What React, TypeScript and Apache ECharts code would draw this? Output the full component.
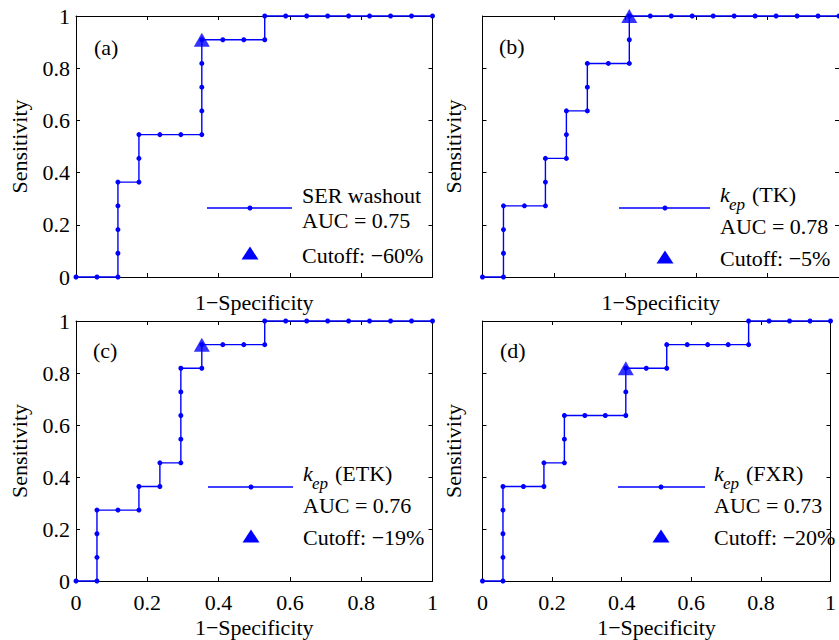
import React, { useEffect, useRef } from "react";
import * as echarts from "echarts";

// ---------- data ----------
const FPR_A = [0, 0.0588, 0.1176, 0.1176, 0.1176, 0.1176, 0.1176, 0.1765, 0.1765, 0.1765, 0.2353, 0.2941, 0.3529, 0.3529, 0.3529, 0.3529, 0.3529, 0.4118, 0.4706, 0.5294, 0.5294, 0.5882, 0.6471, 0.7059, 0.7647, 0.8235, 0.8824, 0.9412, 1];
const TPR_A = [0, 0, 0, 0.0909, 0.1818, 0.2727, 0.3636, 0.3636, 0.4545, 0.5455, 0.5455, 0.5455, 0.5455, 0.6364, 0.7273, 0.8182, 0.9091, 0.9091, 0.9091, 0.9091, 1, 1, 1, 1, 1, 1, 1, 1, 1];

const FPR_B = [0, 0.0588, 0.0588, 0.0588, 0.0588, 0.1176, 0.1765, 0.1765, 0.1765, 0.2353, 0.2353, 0.2353, 0.2941, 0.2941, 0.2941, 0.3529, 0.4118, 0.4118, 0.4118, 0.4706, 0.5294, 0.5882, 0.6471, 0.7059, 0.7647, 0.8235, 0.8824, 0.9412, 1];
const TPR_B = [0, 0, 0.0909, 0.1818, 0.2727, 0.2727, 0.2727, 0.3636, 0.4545, 0.4545, 0.5455, 0.6364, 0.6364, 0.7273, 0.8182, 0.8182, 0.8182, 0.9091, 1, 1, 1, 1, 1, 1, 1, 1, 1, 1, 1];

const FPR_C = [0, 0.0588, 0.0588, 0.0588, 0.0588, 0.1176, 0.1765, 0.1765, 0.2353, 0.2353, 0.2941, 0.2941, 0.2941, 0.2941, 0.2941, 0.3529, 0.3529, 0.4118, 0.4706, 0.5294, 0.5294, 0.5882, 0.6471, 0.7059, 0.7647, 0.8235, 0.8824, 0.9412, 1];
const TPR_C = [0, 0, 0.0909, 0.1818, 0.2727, 0.2727, 0.2727, 0.3636, 0.3636, 0.4545, 0.4545, 0.5455, 0.6364, 0.7273, 0.8182, 0.8182, 0.9091, 0.9091, 0.9091, 0.9091, 1, 1, 1, 1, 1, 1, 1, 1, 1];

const FPR_D = [0, 0.0588, 0.0588, 0.0588, 0.0588, 0.0588, 0.1176, 0.1765, 0.1765, 0.2353, 0.2353, 0.2353, 0.2941, 0.3529, 0.4118, 0.4118, 0.4118, 0.4706, 0.5294, 0.5294, 0.5882, 0.6471, 0.7059, 0.7647, 0.7647, 0.8235, 0.8824, 0.9412, 1];
const TPR_D = [0, 0, 0.0909, 0.1818, 0.2727, 0.3636, 0.3636, 0.3636, 0.4545, 0.4545, 0.5455, 0.6364, 0.6364, 0.6364, 0.6364, 0.7273, 0.8182, 0.8182, 0.8182, 0.9091, 0.9091, 0.9091, 0.9091, 0.9091, 1, 1, 1, 1, 1];

const CUTOFF_POINTS = [
  [0.3529, 0.9091],
  [0.4118, 1],
  [0.3529, 0.9091],
  [0.4118, 0.8182],
];
const PANEL_LABELS = ["(a)", "(b)", "(c)", "(d)"];
const MEASURE_NAMES = ["SER washout", "(TK)", "(ETK)", "(FXR)"];
const AUC_VALUES = ["0.75", "0.78", "0.76", "0.73"];
const CUTOFF_LABELS = ["\u221260%", "\u22125%", "\u221219%", "\u221220%"];
const TICK_LABELS = ["0", "0.2", "0.4", "0.6", "0.8", "1"];
const X_NAME = "1\u2212Specificity";
const Y_NAME = "Sensitivity";

// ---------- layout / style ----------
const SERIF = '"Liberation Serif", "Times New Roman", Times, serif';
const BLUE = "#0000ff";
const FS = 22;

const GRIDS = [
  { left: 76, top: 16, width: 356.5, height: 261 },
  { left: 482.5, top: 16, width: 356.5, height: 261 },
  { left: 76, top: 321, width: 356.5, height: 260 },
  { left: 482.5, top: 321, width: 356.5, height: 260 },
];
const LEGEND_LAYOUT = [
  { x1: 207, x2: 292, y: 208, dot: 250, tx: 302 },
  { x1: 619, x2: 710, y: 208, dot: 665, tx: 720 },
  { x1: 208, x2: 293, y: 487, dot: 251, tx: 303 },
  { x1: 618, x2: 705, y: 487, dot: 661, tx: 714 },
];
const PANEL_LABEL_POS = [
  [94, 47],
  [499, 46],
  [93, 350],
  [500, 350],
];

function txt(x: number, y: number, text: string, extra: any = {}) {
  return {
    type: "text",
    x,
    y,
    silent: true,
    z: 10,
    style: {
      text,
      fill: "#000",
      fontSize: FS,
      fontFamily: SERIF,
      align: "left",
      verticalAlign: "middle",
      textAlign: "left",
      textVerticalAlign: "middle",
      ...extra,
    },
  };
}

export default function App() {
  const ref = useRef<HTMLDivElement>(null);

  useEffect(() => {
    if (!ref.current) return;
    const chart = echarts.init(ref.current, undefined, { renderer: "svg" });

    const panels = [
      { fpr: FPR_A, tpr: TPR_A },
      { fpr: FPR_B, tpr: TPR_B },
      { fpr: FPR_C, tpr: TPR_C },
      { fpr: FPR_D, tpr: TPR_D },
    ];

    const axisLine = { show: true, onZero: false, lineStyle: { color: "#000", width: 1 } };
    const axisTick = { show: true, inside: true, length: 4, lineStyle: { color: "#000", width: 1 } };
    const labelFmt = (v: number) => TICK_LABELS[Math.round(v / 0.2)] ?? String(v);

    const xAxis: any[] = [];
    const yAxis: any[] = [];
    GRIDS.forEach((_, i) => {
      const isBottom = i >= 2;
      const isLeft = i % 2 === 0;
      xAxis.push({
        type: "value",
        gridIndex: i,
        position: "bottom",
        min: 0,
        max: 1,
        interval: 0.2,
        axisLine,
        axisTick,
        splitLine: { show: false },
        axisLabel: {
          show: isBottom,
          color: "#000",
          fontFamily: SERIF,
          fontSize: FS,
          margin: 10,
          formatter: labelFmt,
        },
        name: X_NAME,
        nameLocation: "middle",
        nameGap: isBottom ? 35 : 14.5,
        nameTextStyle: { color: "#000", fontFamily: SERIF, fontSize: FS },
      });
      xAxis.push({
        type: "value",
        gridIndex: i,
        position: "top",
        min: 0,
        max: 1,
        interval: 0.2,
        axisLine,
        axisTick,
        splitLine: { show: false },
        axisLabel: { show: false },
      });
      yAxis.push({
        type: "value",
        gridIndex: i,
        position: "left",
        min: 0,
        max: 1,
        interval: 0.2,
        axisLine,
        axisTick,
        splitLine: { show: false },
        axisLabel: {
          show: isLeft,
          color: "#000",
          fontFamily: SERIF,
          fontSize: FS,
          margin: 6,
          formatter: labelFmt,
        },
        name: Y_NAME,
        nameLocation: "middle",
        nameGap: isLeft ? 46 : 18.5,
        nameTextStyle: { color: "#000", fontFamily: SERIF, fontSize: FS },
      });
      yAxis.push({
        type: "value",
        gridIndex: i,
        position: "right",
        min: 0,
        max: 1,
        interval: 0.2,
        axisLine,
        axisTick,
        splitLine: { show: false },
        axisLabel: { show: false },
      });
    });

    const series: any[] = [];
    panels.forEach((p, i) => {
      series.push({
        type: "line",
        xAxisIndex: i * 2,
        yAxisIndex: i * 2,
        data: p.fpr.map((x, j) => [x, p.tpr[j]]),
        symbol: "circle",
        symbolSize: 5,
        showSymbol: true,
        showAllSymbol: true,
        clip: false,
        lineStyle: { color: BLUE, width: 1.4 },
        itemStyle: { color: BLUE },
        emphasis: { disabled: true },
        z: 3,
      });
      series.push({
        type: "scatter",
        xAxisIndex: i * 2,
        yAxisIndex: i * 2,
        data: [CUTOFF_POINTS[i]],
        symbol: "triangle",
        symbolSize: [16, 14],
        clip: false,
        itemStyle: { color: BLUE },
        emphasis: { disabled: true },
        z: 4,
      });
    });

    const graphic: any[] = [];
    LEGEND_LAYOUT.forEach((L, i) => {
      graphic.push({
        type: "line",
        silent: true,
        z: 10,
        shape: { x1: L.x1, y1: L.y, x2: L.x2, y2: L.y },
        style: { stroke: BLUE, lineWidth: 1.4 },
      });
      graphic.push({
        type: "circle",
        silent: true,
        z: 10,
        shape: { cx: L.dot, cy: L.y, r: 2.5 },
        style: { fill: BLUE },
      });
      const isSer = i === 0;
      if (isSer) {
        graphic.push(txt(L.tx, L.y - 12.5, MEASURE_NAMES[i]));
      } else {
        graphic.push(txt(L.tx, L.y - 14, "k", { fontStyle: "italic" }));
        graphic.push(txt(L.tx + 9, L.y - 4, "ep", { fontStyle: "italic", fontSize: 17 }));
        graphic.push(txt(L.tx + 32, L.y - 14, MEASURE_NAMES[i]));
      }
      graphic.push(txt(L.tx, L.y + (isSer ? 12.5 : 18), "AUC = " + AUC_VALUES[i]));
      const ty = L.y + (isSer ? 45 : 49);
      graphic.push({
        type: "polygon",
        silent: true,
        z: 10,
        shape: {
          points: [
            [L.dot - 8.5, ty + 6.5],
            [L.dot + 8.5, ty + 6.5],
            [L.dot, ty - 6.5],
          ],
        },
        style: { fill: BLUE },
      });
      graphic.push(txt(L.tx, L.y + (isSer ? 47.5 : 50), "Cutoff: " + CUTOFF_LABELS[i]));
      const [px, py] = PANEL_LABEL_POS[i];
      graphic.push(txt(px, py, PANEL_LABELS[i]));
    });

    chart.setOption({
      animation: false,
      backgroundColor: "#fff",
      grid: GRIDS.map((g) => ({ ...g, containLabel: false })),
      xAxis,
      yAxis,
      series,
      graphic,
    });

    return () => chart.dispose();
  }, []);

  return (
    <div
      ref={ref}
      style={{ position: "fixed", left: 0, top: 0, width: 839, height: 640, background: "#fff" }}
    />
  );
}
